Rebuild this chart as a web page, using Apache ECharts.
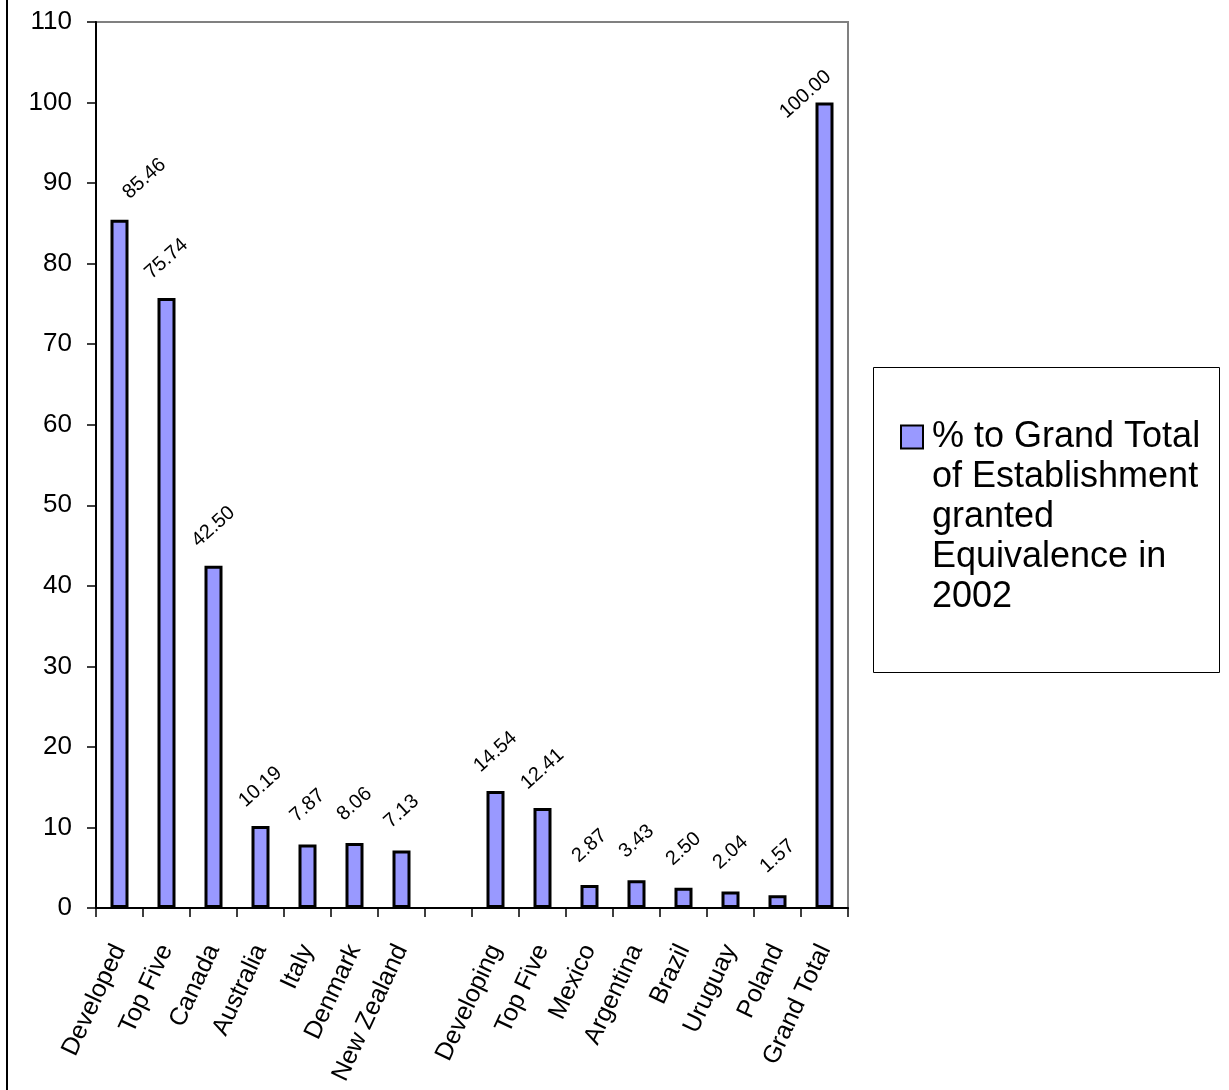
<!DOCTYPE html>
<html>
<head>
<meta charset="utf-8">
<script src="https://cdn.jsdelivr.net/npm/echarts@6/dist/echarts.min.js"></script>
<style>
  html, body { margin: 0; padding: 0; background: #fff; }
  #chart { width: 1229px; height: 1090px; }
</style>
</head>
<body>
<div id="chart"></div>
<script>
const categories = ['Developed', 'Top Five', 'Canada', 'Australia', 'Italy', 'Denmark', 'New Zealand', '',
  'Developing', 'Top Five', 'Mexico', 'Argentina', 'Brazil', 'Uruguay', 'Poland', 'Grand Total'];
const shares = [85.46, 75.74, 42.50, 10.19, 7.87, 8.06, 7.13, null,
  14.54, 12.41, 2.87, 3.43, 2.50, 2.04, 1.57, 100.00];
const seriesName = '% to Grand Total of Establishment granted Equivalence in 2002';
const legendLines = ['% to Grand Total', 'of Establishment', 'granted', 'Equivalence in', '2002'];

const font = "'Liberation Sans', Arial, sans-serif";

const labelAngle = 42;
// a couple of labels were nudged in the original to stay inside the plot (screen px)
const labelShift = {0: [25, -2], 15: [-19, 31]};

// label offsets are applied in the rotated frame, so turn screen px into that frame
function toLocal(d) {
  const a = labelAngle * Math.PI / 180;
  const c = Math.cos(a), s = Math.sin(a);
  return [d[0] * c - d[1] * s, d[0] * s + d[1] * c];
}

const chart = echarts.init(document.getElementById('chart'));

const option = {
  animation: false,
  backgroundColor: '#fff',
  textStyle: { fontFamily: font },
  grid: {
    left: 96, right: 381, top: 22, bottom: 182,
    show: true, borderColor: '#808080', borderWidth: 2,
    outerBoundsMode: 'none'
  },
  legend: {
    left: 895,
    top: 252,
    icon: 'rect',
    itemWidth: 22,
    itemHeight: 23,
    itemStyle: { color: '#9999FF', borderColor: '#000', borderWidth: 2 },
    formatter: () => ['', '', '', ''].concat(legendLines).join('\n'),
    textStyle: { fontFamily: font, fontSize: 36, lineHeight: 40, color: '#000', padding: [0, 0, 0, 4] }
  },
  graphic: [
    { type: 'line', shape: { x1: 7, y1: 0, x2: 7, y2: 1090 }, style: { stroke: '#000', lineWidth: 2 } },
    { type: 'rect', shape: { x: 873.5, y: 367.5, width: 346, height: 305 },
      style: { fill: 'none', stroke: '#000', lineWidth: 1 } }
  ],
  xAxis: {
    type: 'category',
    data: categories,
    boundaryGap: true,
    axisLine: { lineStyle: { color: '#000', width: 2 } },
    axisTick: { show: true, interval: 0, length: 9, lineStyle: { color: '#000', width: 1.5 } },
    axisLabel: {
      interval: 0, rotate: 65, align: 'right', verticalAlign: 'middle', margin: 38,
      fontSize: 25, color: '#000', fontFamily: font
    },
    splitLine: { show: false }
  },
  yAxis: {
    type: 'value',
    min: 0, max: 110, interval: 10,
    axisLine: { show: true, lineStyle: { color: '#000', width: 2 } },
    axisTick: { show: true, length: 9, lineStyle: { color: '#000', width: 1.5 } },
    axisLabel: { fontSize: 26, color: '#000', margin: 24, fontFamily: font },
    splitLine: { show: false }
  },
  series: [{
    name: seriesName,
    type: 'bar',
    barWidth: 18,
    itemStyle: { color: '#9999FF', borderColor: '#000', borderWidth: 3 },
    label: {
      show: true,
      position: 'top',
      distance: 39,
      rotate: labelAngle,
      align: 'center',
      verticalAlign: 'middle',
      fontSize: 20,
      color: '#000',
      fontFamily: font,
      formatter: p => p.value == null ? '' : Number(p.value).toFixed(2)
    },
    data: shares.map((v, i) => labelShift[i] ? { value: v, label: { offset: toLocal(labelShift[i]) } } : v)
  }]
};

chart.setOption(option);
</script>
</body>
</html>
